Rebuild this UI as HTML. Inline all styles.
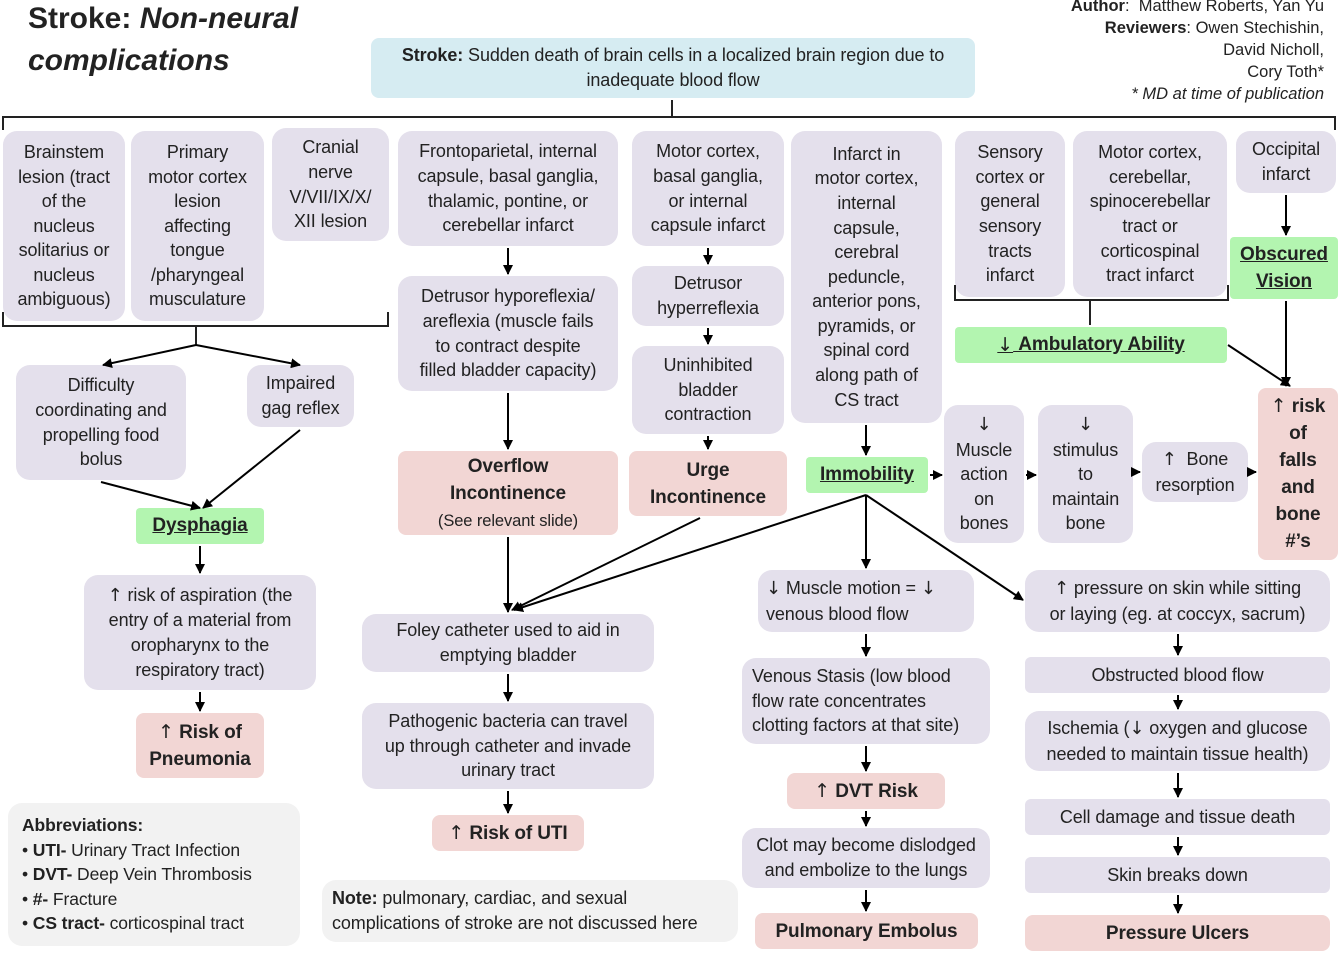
<!DOCTYPE html>
<html><head><meta charset="utf-8"><style>
body{margin:0;width:1338px;height:957px;position:relative;background:#fff;font-family:"Liberation Sans",sans-serif;color:#222;overflow:hidden}
.b{position:absolute;display:flex;align-items:center;justify-content:center;text-align:center;border-radius:14px;background:#e4e0ec;font-size:18px;line-height:24.6px;box-sizing:border-box;padding:0;white-space:nowrap;letter-spacing:-0.1px}
.g{background:#b3f5b0;border-radius:4px;font-weight:bold;text-decoration:underline;font-size:19px}
.p{background:#f2d6d4;border-radius:8px;font-weight:bold;font-size:19px;line-height:27px}
.t{position:absolute}
.ar{font-family:"DejaVu Sans",sans-serif;font-weight:normal}
svg{position:absolute;left:0;top:0}
</style></head><body>
<div class="t" style="left:28px;top:-2px;font-size:30px;font-weight:bold;line-height:42px">Stroke: <i>Non-neural</i><br><i>complications</i></div>
<div class="t" style="right:14px;top:-5px;text-align:right;font-size:16.5px;line-height:22px"><b>Author</b>:&nbsp; Matthew Roberts, Yan Yu<br><b>Reviewers</b>: Owen Stechishin,<br>David Nicholl,<br>Cory Toth*<br><i>* MD at time of publication</i></div>
<div class="b" style="left:371px;top:38px;width:604px;height:60px;background:#d6ecf2;border-radius:8px"><span><b>Stroke:</b> Sudden death of brain cells in a localized brain region due to<br>inadequate blood flow</span></div>

<div class="b" style="left:3px;top:131px;width:122px;height:190px">Brainstem<br>lesion (tract<br>of the<br>nucleus<br>solitarius or<br>nucleus<br>ambiguous)</div>
<div class="b" style="left:131px;top:131px;width:133px;height:190px">Primary<br>motor cortex<br>lesion<br>affecting<br>tongue<br>/pharyngeal<br>musculature</div>
<div class="b" style="left:272px;top:128px;width:117px;height:113px">Cranial<br>nerve<br>V/VII/IX/X/<br>XII lesion</div>
<div class="b" style="left:398px;top:131px;width:220px;height:115px">Frontoparietal, internal<br>capsule, basal ganglia,<br>thalamic, pontine, or<br>cerebellar infarct</div>
<div class="b" style="left:632px;top:131px;width:152px;height:115px">Motor cortex,<br>basal ganglia,<br>or internal<br>capsule infarct</div>
<div class="b" style="left:791px;top:131px;width:151px;height:292px">Infarct in<br>motor cortex,<br>internal<br>capsule,<br>cerebral<br>peduncle,<br>anterior pons,<br>pyramids, or<br>spinal cord<br>along path of<br>CS tract</div>
<div class="b" style="left:955px;top:131px;width:110px;height:166px">Sensory<br>cortex or<br>general<br>sensory<br>tracts<br>infarct</div>
<div class="b" style="left:1073px;top:131px;width:154px;height:166px">Motor cortex,<br>cerebellar,<br>spinocerebellar<br>tract or<br>corticospinal<br>tract infarct</div>
<div class="b" style="left:1236px;top:131px;width:100px;height:62px">Occipital<br>infarct</div>

<div class="b g" style="left:1230px;top:237px;width:108px;height:62px;line-height:27px">Obscured<br>Vision</div>
<div class="b g" style="left:955px;top:327px;width:272px;height:36px"><span class="ar">↓</span>&nbsp;Ambulatory Ability</div>

<div class="b" style="left:16px;top:365px;width:170px;height:115px">Difficulty<br>coordinating and<br>propelling food<br>bolus</div>
<div class="b" style="left:247px;top:365px;width:107px;height:62px">Impaired<br>gag reflex</div>
<div class="b g" style="left:136px;top:508px;width:128px;height:36px">Dysphagia</div>
<div class="b" style="left:84px;top:575px;width:232px;height:115px"><span><span class="ar">↑</span> risk of aspiration (the<br>entry of a material from<br>oropharynx to the<br>respiratory tract)</span></div>
<div class="b p" style="left:136px;top:713px;width:128px;height:65px"><span><span class="ar">↑</span> Risk of<br>Pneumonia</span></div>
<div class="b" style="left:8px;top:803px;width:292px;height:143px;background:#f2f2f2;justify-content:flex-start;text-align:left;padding-left:14px;line-height:24.5px;font-size:17.5px"><div><b>Abbreviations:</b><br>• <b>UTI-</b> Urinary Tract Infection<br>• <b>DVT-</b> Deep Vein Thrombosis<br>• <b>#-</b> Fracture<br>• <b>CS tract-</b> corticospinal tract</div></div>

<div class="b" style="left:398px;top:276px;width:220px;height:115px">Detrusor hyporeflexia/<br>areflexia (muscle fails<br>to contract despite<br>filled bladder capacity)</div>
<div class="b p" style="left:398px;top:451px;width:220px;height:84px"><div>Overflow<br>Incontinence<br><span style="font-weight:normal;font-size:16.5px;line-height:22px">(See relevant slide)</span></div></div>
<div class="b" style="left:362px;top:614px;width:292px;height:58px">Foley catheter used to aid in<br>emptying bladder</div>
<div class="b" style="left:362px;top:703px;width:292px;height:86px">Pathogenic bacteria can travel<br>up through catheter and invade<br>urinary tract</div>
<div class="b p" style="left:432px;top:815px;width:152px;height:36px"><span class="ar">↑</span>&nbsp;Risk of UTI</div>
<div class="b" style="left:322px;top:880px;width:416px;height:62px;background:#f2f2f2;justify-content:flex-start;text-align:left;padding-left:10px"><span><b>Note:</b> pulmonary, cardiac, and sexual<br>complications of stroke are not discussed here</span></div>

<div class="b" style="left:632px;top:266px;width:152px;height:60px">Detrusor<br>hyperreflexia</div>
<div class="b" style="left:632px;top:346px;width:152px;height:88px">Uninhibited<br>bladder<br>contraction</div>
<div class="b p" style="left:629px;top:451px;width:158px;height:65px">Urge<br>Incontinence</div>

<div class="b g" style="left:806px;top:457px;width:122px;height:36px">Immobility</div>
<div class="b" style="left:944px;top:405px;width:80px;height:138px"><span><span class="ar">↓</span><br>Muscle<br>action<br>on<br>bones</span></div>
<div class="b" style="left:1038px;top:405px;width:95px;height:138px"><span><span class="ar">↓</span><br>stimulus<br>to<br>maintain<br>bone</span></div>
<div class="b" style="left:1142px;top:442px;width:106px;height:60px"><span><span class="ar">↑</span>&nbsp; Bone<br>resorption</span></div>
<div class="b p" style="left:1258px;top:388px;width:80px;height:172px"><span><span class="ar">↑</span> risk<br>of<br>falls<br>and<br>bone<br>#’s</span></div>

<div class="b" style="left:758px;top:570px;width:216px;height:62px;justify-content:flex-start;text-align:left;padding-left:8px"><span><span class="ar">↓</span> Muscle motion = <span class="ar">↓</span><br>venous blood flow</span></div>
<div class="b" style="left:742px;top:658px;width:248px;height:86px;justify-content:flex-start;text-align:left;padding-left:10px">Venous Stasis (low blood<br>flow rate concentrates<br>clotting factors at that site)</div>
<div class="b p" style="left:787px;top:773px;width:158px;height:36px"><span class="ar">↑</span>&nbsp;DVT Risk</div>
<div class="b" style="left:742px;top:828px;width:248px;height:60px">Clot may become dislodged<br>and embolize to the lungs</div>
<div class="b p" style="left:755px;top:913px;width:223px;height:36px">Pulmonary Embolus</div>

<div class="b" style="left:1025px;top:570px;width:305px;height:62px"><span><span class="ar">↑</span> pressure on skin while sitting<br>or laying (eg. at coccyx, sacrum)</span></div>
<div class="b" style="left:1025px;top:657px;width:305px;height:36px;border-radius:6px">Obstructed blood flow</div>
<div class="b" style="left:1025px;top:711px;width:305px;height:60px"><span>Ischemia (<span class="ar">↓</span> oxygen and glucose<br>needed to maintain tissue health)</span></div>
<div class="b" style="left:1025px;top:799px;width:305px;height:36px;border-radius:6px">Cell damage and tissue death</div>
<div class="b" style="left:1025px;top:857px;width:305px;height:36px;border-radius:6px">Skin breaks down</div>
<div class="b p" style="left:1025px;top:915px;width:305px;height:36px">Pressure Ulcers</div>

<svg width="1338" height="957">
<defs><marker id="a" markerWidth="10" markerHeight="10" refX="9" refY="5" orient="auto" markerUnits="userSpaceOnUse"><path d="M0,0L10,5L0,10z" fill="#000"/></marker></defs>
<g fill="none" stroke="#222" stroke-width="2">
<path d="M3,130V117H1335V130M672,117V100"/>
<path d="M3,312V326H388V312M196,326V345"/>
<path d="M955,285V300H1228V285M1090,300V325"/>
</g>
<g fill="none" stroke="#000" stroke-width="2" marker-end="url(#a)">
<path d="M196,345L103,365"/><path d="M196,345L300,365"/>
<path d="M101,482L200,508"/><path d="M300,430L203,508"/>
<path d="M200,546V573"/><path d="M200,692V711"/>
<path d="M508,248V274"/><path d="M508,393V449"/><path d="M508,537V612"/>
<path d="M508,674V701"/><path d="M508,791V813"/>
<path d="M708,248V264"/><path d="M708,328V344"/><path d="M708,436V449"/>
<path d="M700,518L512,610"/>
<path d="M866,425V455"/><path d="M930,475H942"/><path d="M1026,475H1036"/><path d="M1133,472H1140"/><path d="M1248,472H1256"/>
<path d="M866,495L514,610"/><path d="M866,495V568"/><path d="M866,495L1023,600"/>
<path d="M1286,195V235"/><path d="M1286,301V386"/><path d="M1228,345L1290,386"/>
<path d="M866,634V656"/><path d="M866,746V771"/><path d="M866,811V826"/><path d="M866,890V911"/>
<path d="M1178,634V655"/><path d="M1178,695V709"/><path d="M1178,773V797"/><path d="M1178,837V855"/><path d="M1178,895V913"/>
</g>
</svg>
</body></html>
